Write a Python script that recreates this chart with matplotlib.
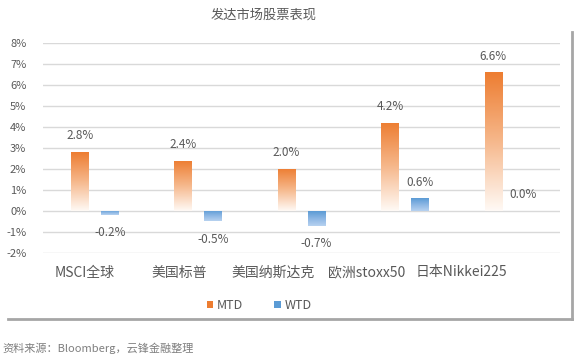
import matplotlib

matplotlib.use("Agg")
import matplotlib.pyplot as plt
import matplotlib.transforms as mtransforms
import numpy as np
from matplotlib.colors import LinearSegmentedColormap
from matplotlib.lines import Line2D
from matplotlib.patches import Patch
from matplotlib.ticker import FuncFormatter

plt.rcParams["font.family"] = ["Noto Sans CJK SC", "DejaVu Sans"]

# ---------------------------------------------------------------
# Data
# ---------------------------------------------------------------
categories = ["MSCI全球", "美国标普", "美国纳斯达克", "欧洲stoxx50", "日本Nikkei225"]
mtd = [2.8, 2.4, 2.0, 4.2, 6.6]
wtd = [-0.2, -0.5, -0.7, 0.6, 0.0]
series_names = ["MTD", "WTD"]
y_ticks = [-2, -1, 0, 1, 2, 3, 4, 5, 6, 7, 8]

title = "发达市场股票表现"
source_note = "资料来源：Bloomberg，云锋金融整理"

ORANGE = "#ed7d31"
BLUE = "#5b9bd5"
TEXT = "#595959"
GRID = "#d9d9d9"

orange_cmap = LinearSegmentedColormap.from_list("o", ["#fffaf6", "#f6b88c", ORANGE])
blue_cmap = LinearSegmentedColormap.from_list("b", ["#b7d2f0", "#8cb6e4", BLUE])


def gradient_bars(ax, x, heights, width, cmap):
    bars = ax.bar(x, heights, width, color="none", edgecolor="none", zorder=3)
    grad = np.linspace(0, 1, 256).reshape(-1, 1)
    for b in bars:
        x0, y0 = b.get_x(), b.get_y()
        w, h = b.get_width(), b.get_height()
        if h == 0:
            continue
        lo, hi = min(y0, y0 + h), max(y0, y0 + h)
        im = ax.imshow(grad, cmap=cmap, origin="lower", aspect="auto",
                       extent=[x0, x0 + w, lo, hi], zorder=3)
        im.set_clip_path(b)
    return bars


fig = plt.figure(figsize=(5.76, 3.58), dpi=100)
ax = fig.add_axes([0.0747, 0.2933, 0.8975, 0.5867])

x = np.arange(len(categories))
off = 0.145
bw = 0.17
gradient_bars(ax, x - off, mtd, bw, orange_cmap)
gradient_bars(ax, x + off, wtd, bw, blue_cmap)

for xi, v in zip(x - off, mtd):
    ax.annotate(f"{v:.1f}%", (xi, v), xytext=(0, 7), textcoords="offset points",
                ha="center", va="bottom", fontsize=8.5, color=TEXT)
for xi, v in zip(x + off, wtd):
    if v < 0:
        ax.annotate(f"{v:.1f}%", (xi, v), xytext=(0, -8), textcoords="offset points",
                    ha="center", va="top", fontsize=8.5, color=TEXT)
    else:
        ax.annotate(f"{v:.1f}%", (xi, v), xytext=(0, 7), textcoords="offset points",
                    ha="center", va="bottom", fontsize=8.5, color=TEXT)

ax.set_xlim(-0.5, len(categories) - 0.5)
ax.set_ylim(-2, 8)
ax.set_yticks(y_ticks)
ax.yaxis.set_major_formatter(FuncFormatter(lambda v, _: f"{v:.0f}%"))
ax.set_xticks(x)
ax.set_xticklabels(categories, fontsize=10, color=TEXT)
ax.tick_params(axis="y", length=0, pad=12, labelsize=8, labelcolor=TEXT)
ax.tick_params(axis="x", length=0, pad=9)
ax.grid(axis="y", color=GRID, linewidth=1)
ax.set_axisbelow(True)
for s in ax.spines.values():
    s.set_visible(False)

# the category labels in the original drift left of their groups
for i, lab in enumerate(ax.get_xticklabels()):
    shift = mtransforms.ScaledTranslation((-10 - 9.3 * i) / 100, 0, fig.dpi_scale_trans)
    lab.set_transform(lab.get_transform() + shift)

handles = [Patch(facecolor=ORANGE, edgecolor="none"), Patch(facecolor=BLUE, edgecolor="none")]
fig.legend(handles, series_names, loc="center", bbox_to_anchor=(0.45, 0.148), ncol=2,
           frameon=False, fontsize=9, labelcolor=TEXT, handlelength=0.5,
           handleheight=0.5, handletextpad=0.3, columnspacing=2.5)

fig.text(0.458, 0.958, title, ha="center", va="center", fontsize=9.5, color=TEXT)
fig.text(0.004, 0.028, source_note, ha="left", va="center", fontsize=8, color="#7f7f7f")

# chart box shadow (right and bottom edges)
fig.add_artist(Line2D([0.993, 0.993], [0.11, 0.91], transform=fig.transFigure,
                      color="#a6a6a6", linewidth=2))
fig.add_artist(Line2D([0.014, 0.993], [0.11, 0.11], transform=fig.transFigure,
                      color="#a6a6a6", linewidth=2))

fig.savefig("out.png", dpi=100)
